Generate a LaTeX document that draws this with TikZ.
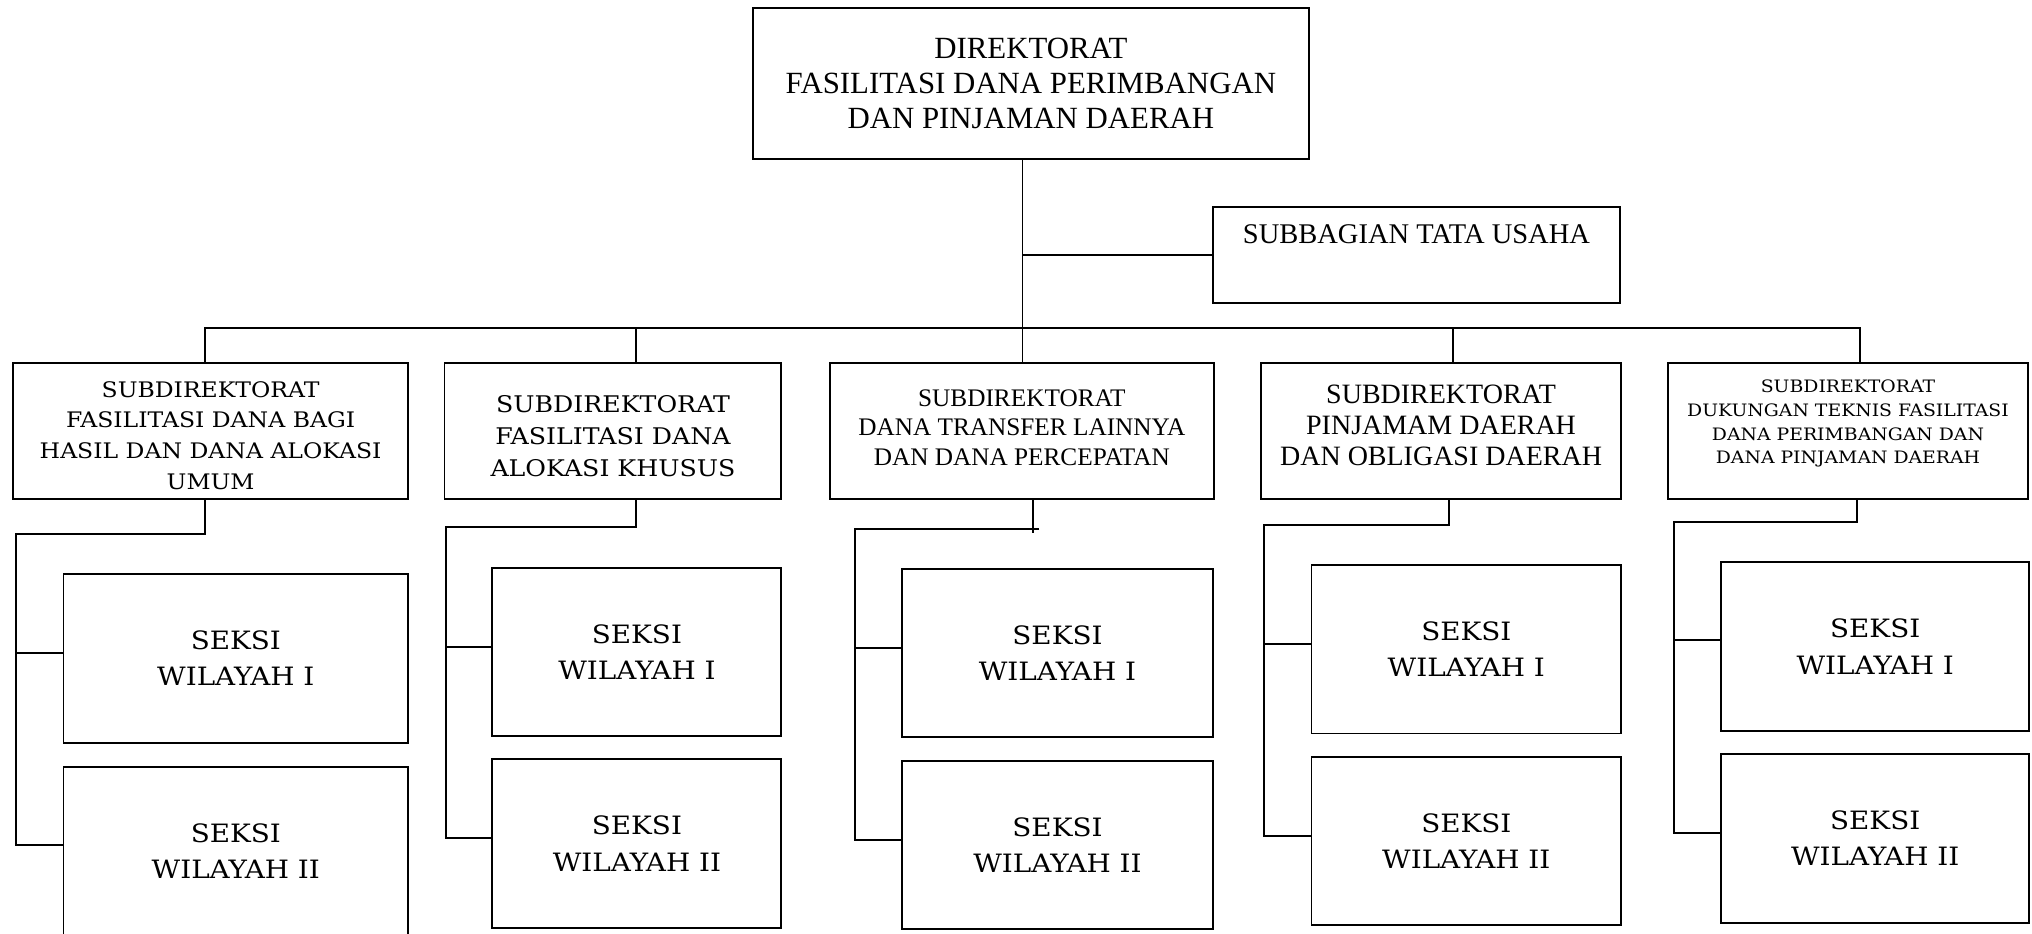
\documentclass[tikz,border=0pt]{standalone}
\usepackage{fontspec}
\setmainfont{Liberation Serif}
\newfontfamily\bk[FakeStretch=1.1]{DejaVu Serif}
\begin{document}
\begin{tikzpicture}[x=1pt,y=-1pt,line width=1.5pt,
  box/.style={draw,rectangle,inner sep=0pt,align=center,line width=1.5pt},
  txt/.style={align=center,inner sep=0pt},
  link/.style={line width=1.5pt}]
\useasboundingbox (0,0) rectangle (1568,720);
% top level
\node[box,minimum width=429,minimum height=117,font=\fontsize{23.8}{27}\selectfont] (top) at (795.5,64.5)
  {DIREKTORAT\\FASILITASI DANA PERIMBANGAN\\DAN PINJAMAN DAERAH};
\node[box,minimum width=314,minimum height=74] (sub) at (1093,197) {};
\node[txt,font=\fontsize{22}{24}\selectfont] (subt) at (1093,181) {SUBBAGIAN TATA USAHA};
% subdirektorat
\node[box,minimum width=305,minimum height=105] (B1) at (162.5,332.5) {};
\node[txt,font=\bk\fontsize{16.5}{23.7}\selectfont] (B1t) at (162.5,336)
  {SUBDIREKTORAT\\FASILITASI DANA BAGI\\HASIL DAN DANA ALOKASI\\UMUM};
\node[box,minimum width=260,minimum height=105] (B2) at (473,332.5) {};
\node[txt,font=\bk\fontsize{17.7}{25}\selectfont] (B2t) at (473,336.5)
  {SUBDIREKTORAT\\FASILITASI DANA\\ALOKASI KHUSUS};
\node[box,minimum width=296,minimum height=105] (B3) at (788.5,332.5) {};
\node[txt,font=\fontsize{19.5}{22.5}\selectfont] (B3t) at (788.5,330)
  {SUBDIREKTORAT\\DANA TRANSFER LAINNYA\\DAN DANA PERCEPATAN};
\node[box,minimum width=278,minimum height=105] (B4) at (1112,332.5) {};
\node[txt,font=\fontsize{21.6}{24}\selectfont] (B4t) at (1112,328.5)
  {SUBDIREKTORAT\\PINJAMAM DAERAH\\DAN OBLIGASI DAERAH};
\node[box,minimum width=278,minimum height=105] (B5) at (1426,332.5) {};
\node[txt,font=\bk\fontsize{13.2}{18.3}\selectfont] (B5t) at (1426,327)
  {SUBDIREKTORAT\\DUKUNGAN TEKNIS FASILITASI\\DANA PERIMBANGAN DAN\\DANA PINJAMAN DAERAH};
% seksi
\tikzset{seksi/.style={box,minimum width=#1,minimum height=130,font=\bk\fontsize{19.5}{28}\selectfont}}
\node[seksi=266] (S11) at (182,508) {SEKSI\\WILAYAH I};
\node[seksi=266] (S12) at (182,656.5) {SEKSI\\WILAYAH II};
\node[seksi=223] (S21) at (491.5,503) {SEKSI\\WILAYAH I};
\node[seksi=223] (S22) at (491.5,651) {SEKSI\\WILAYAH II};
\node[seksi=240] (S31) at (816,504) {SEKSI\\WILAYAH I};
\node[seksi=240] (S32) at (816,652) {SEKSI\\WILAYAH II};
\node[seksi=239] (S41) at (1131.5,501) {SEKSI\\WILAYAH I};
\node[seksi=239] (S42) at (1131.5,649) {SEKSI\\WILAYAH II};
\node[seksi=238] (S51) at (1447,499) {SEKSI\\WILAYAH I};
\node[seksi=238] (S52) at (1447,647) {SEKSI\\WILAYAH II};
% trunk and bus
\coordinate (d1) at (158,253);
\coordinate (d2) at (491,253);
\coordinate (d3) at (789,253);
\coordinate (d4) at (1121,253);
\coordinate (d5) at (1435,253);
\draw[link] (top.south -| d3) -- (d3 |- B3.north);
\draw[link] (sub.west -| d3) -- (sub.west);
\draw[link] (d1 |- B1.north) -- (d1) -- (d5) -- (d5 |- B5.north);
\draw[link] (d2) -- (d2 |- B2.north);
\draw[link] (d4) -- (d4 |- B4.north);
% column 1
\coordinate (c1a) at (158,412); \coordinate (c1b) at (12,412);
\coordinate (c1p) at (12,504); \coordinate (c1q) at (12,652);
\draw[link] (c1a |- B1.south) -- (c1a) -- (c1b) -- (c1q) -- (c1q -| S12.west);
\draw[link] (c1p) -- (c1p -| S11.west);
% column 2
\coordinate (c2a) at (491,407); \coordinate (c2b) at (344,407);
\coordinate (c2p) at (344,499); \coordinate (c2q) at (344,647);
\draw[link] (c2a |- B2.south) -- (c2a) -- (c2b) -- (c2q) -- (c2q -| S22.west);
\draw[link] (c2p) -- (c2p -| S21.west);
% column 3
\coordinate (c3a) at (797,408); \coordinate (c3b) at (660,408);
\coordinate (c3p) at (660,500); \coordinate (c3q) at (660,648);
\coordinate (c3e) at (802,408); \coordinate (c3f) at (797,411);
\draw[link] (c3a |- B3.south) -- (c3f);
\draw[link] (c3e) -- (c3b) -- (c3q) -- (c3q -| S32.west);
\draw[link] (c3p) -- (c3p -| S31.west);
% column 4
\coordinate (c4a) at (1118,405); \coordinate (c4b) at (975,405);
\coordinate (c4p) at (975,497); \coordinate (c4q) at (975,645);
\draw[link] (c4a |- B4.south) -- (c4a) -- (c4b) -- (c4q) -- (c4q -| S42.west);
\draw[link] (c4p) -- (c4p -| S41.west);
% column 5
\coordinate (c5a) at (1433,403); \coordinate (c5b) at (1292,403);
\coordinate (c5p) at (1292,494); \coordinate (c5q) at (1292,643);
\draw[link] (c5a |- B5.south) -- (c5a) -- (c5b) -- (c5q) -- (c5q -| S52.west);
\draw[link] (c5p) -- (c5p -| S51.west);
\end{tikzpicture}
\end{document}
